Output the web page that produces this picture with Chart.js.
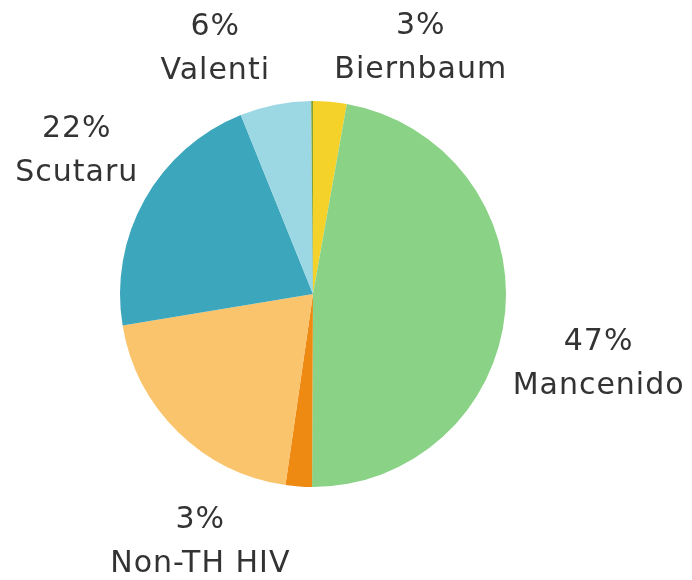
<!DOCTYPE html>
<html>
<head>
<meta charset="utf-8">
<script src="https://cdn.jsdelivr.net/npm/chart.js@4.4.1/dist/chart.umd.min.js"></script>
<style>
  html, body { margin: 0; padding: 0; background: #ffffff; }
  #wrap { width: 692px; height: 580px; position: relative; }
</style>
</head>
<body>
<div id="wrap"><canvas id="c" width="692" height="580"></canvas></div>
<script>
// ---- data ----
const categories = ["Biernbaum", "Mancenido", "Non-TH HIV", "Other", "Scutaru", "Valenti", "Unknown"];
const values     = [2.8, 47.25, 2.2, 20.1, 21.5, 5.95, 0.15];
const percentLabels = ["3%", "47%", "3%", "", "22%", "6%", ""];
const colors = ["#F5D22A", "#8AD285", "#EE8A12", "#F9C46C", "#3CA7BC", "#9BD8E3", "#7FA33A"];

// label placement: angle (deg clockwise from top) and distance in radii, for labelled slices
const labelLayout = {
  0: { a: 23.3,  d: 1.405 },
  1: { a: 103.3, d: 1.518 },
  2: { a: 204.8, d: 1.398 },
  4: { a: 301.6, d: 1.44 },
  5: { a: 338.4, d: 1.383 }
};

const labelPlugin = {
  id: 'pieLabels',
  afterDatasetsDraw(chart) {
    const meta = chart.getDatasetMeta(0);
    const first = meta.data[0];
    const cx = first.x, cy = first.y, r = first.outerRadius;
    const ctx = chart.ctx;
    ctx.save();
    ctx.font = '30px "DejaVu Sans"';
    ctx.fillStyle = '#333333';
    ctx.textAlign = 'center';
    ctx.textBaseline = 'alphabetic';
    const ls = 1;
    if ('letterSpacing' in ctx) ctx.letterSpacing = ls + 'px';
    const lineGap = 44, capHalf = 11;
    Object.keys(labelLayout).forEach(k => {
      const i = +k;
      const L = labelLayout[i];
      const ang = L.a * Math.PI / 180;
      const x = cx + Math.sin(ang) * r * L.d + ls / 2;
      const y = cy - Math.cos(ang) * r * L.d;
      ctx.fillText(percentLabels[i], x, y - lineGap / 2 + capHalf);
      ctx.fillText(categories[i], x, y + lineGap / 2 + capHalf);
    });
    ctx.restore();
  }
};

new Chart(document.getElementById('c'), {
  type: 'pie',
  data: {
    labels: categories,
    datasets: [{
      data: values,
      backgroundColor: colors,
      borderWidth: 0
    }]
  },
  options: {
    responsive: false,
    animation: false,
    layout: { padding: { top: 101, bottom: 93, left: 120, right: 186 } },
    plugins: {
      legend: { display: false },
      tooltip: { enabled: false }
    }
  },
  plugins: [labelPlugin]
});
</script>
</body>
</html>
